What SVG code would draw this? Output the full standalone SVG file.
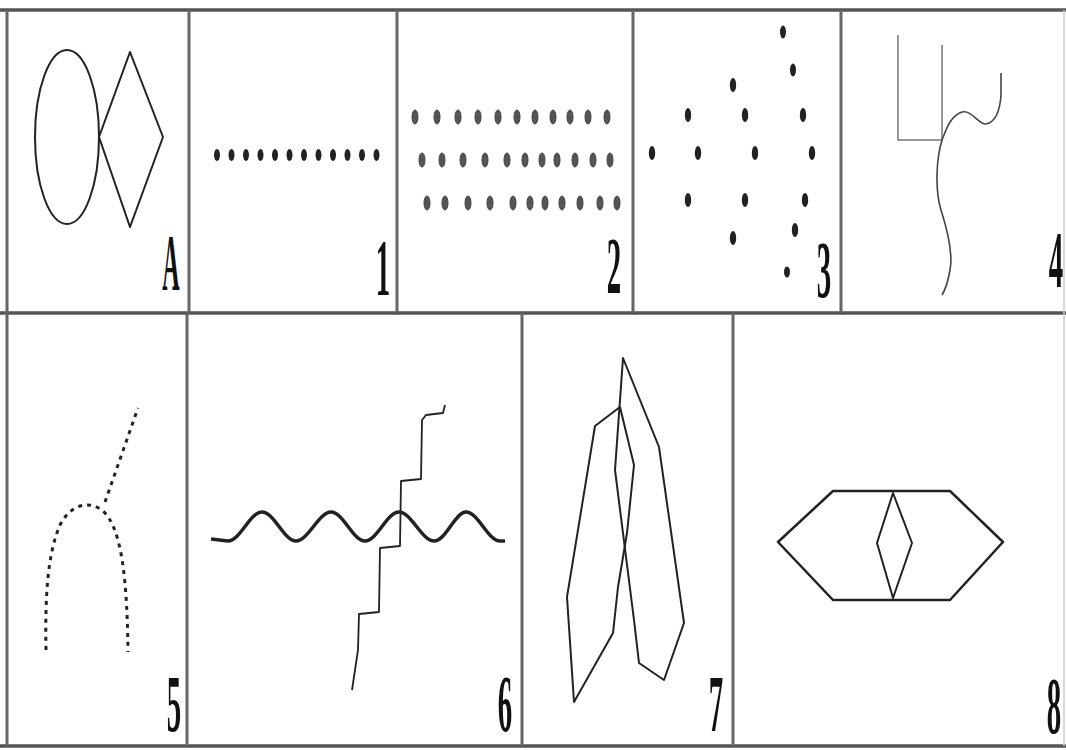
<svg xmlns="http://www.w3.org/2000/svg" width="1066" height="750" viewBox="0 0 1066 750">
<defs>
<style>
.frame{stroke:#555;stroke-width:3.5;fill:none}
.div{stroke:#666;stroke-width:3;fill:none}
.ln{stroke:#222;stroke-width:2;fill:none;stroke-linejoin:round}
.thin{stroke:#777;stroke-width:1.5;fill:none}
.dot{fill:#222}
.odot{fill:#555;stroke:#444;stroke-width:1}
.lbl{font-family:"Liberation Serif","Times New Roman",serif;font-size:80px;font-weight:bold;fill:#111;text-anchor:middle}
</style>
</defs>
<rect width="1066" height="750" fill="#fff"/>
<g id="frame">
<line class="frame" x1="0" y1="10" x2="1066" y2="10"/>
<line class="frame" x1="0" y1="313" x2="1066" y2="313"/>
<line class="frame" x1="0" y1="746" x2="1066" y2="746"/>
<line class="div" x1="7" y1="10" x2="7" y2="746"/>
<line x1="1064" y1="10" x2="1064" y2="746" stroke="#ccc" stroke-width="1.5"/>
<line class="div" x1="189" y1="10" x2="189" y2="313"/>
<line class="div" x1="397" y1="10" x2="397" y2="313"/>
<line class="div" x1="633" y1="10" x2="633" y2="313"/>
<line class="div" x1="841" y1="10" x2="841" y2="313"/>
<line class="div" x1="187" y1="313" x2="187" y2="746"/>
<line class="div" x1="522" y1="313" x2="522" y2="746"/>
<line class="div" x1="733" y1="313" x2="733" y2="746"/>
</g>
<g id="figA">
<ellipse class="ln" cx="67" cy="137" rx="32" ry="87"/>
<polygon class="ln" points="130,52 163,137 130,227 99,137"/>
<text class="lbl" transform="translate(171,290) scale(0.3,1)">A</text>
</g>
<g id="fig1">
<g class="dot">
<ellipse cx="217" cy="155" rx="3" ry="6"/><ellipse cx="231.5" cy="155" rx="3" ry="6"/><ellipse cx="246" cy="155" rx="3" ry="6"/><ellipse cx="260.5" cy="155" rx="3" ry="6"/><ellipse cx="275" cy="155" rx="3" ry="6"/><ellipse cx="289.5" cy="155" rx="3" ry="6"/><ellipse cx="304" cy="155" rx="3" ry="6"/><ellipse cx="318.5" cy="155" rx="3" ry="6"/><ellipse cx="333" cy="155" rx="3" ry="6"/><ellipse cx="347.5" cy="155" rx="3" ry="6"/><ellipse cx="362" cy="155" rx="3" ry="6"/><ellipse cx="376.5" cy="155" rx="3" ry="6"/>
</g>
<text class="lbl" transform="translate(383,295) scale(0.36,1)">1</text>
</g>
<g id="fig2">
<g class="odot">
<ellipse cx="415" cy="117" rx="3" ry="7"/><ellipse cx="437" cy="117" rx="3" ry="7"/><ellipse cx="458" cy="117" rx="3" ry="7"/><ellipse cx="478" cy="117" rx="3" ry="7"/><ellipse cx="498" cy="117" rx="3" ry="7"/><ellipse cx="517" cy="117" rx="3" ry="7"/><ellipse cx="535" cy="117" rx="3" ry="7"/><ellipse cx="553" cy="117" rx="3" ry="7"/><ellipse cx="570" cy="117" rx="3" ry="7"/><ellipse cx="588" cy="117" rx="3" ry="7"/><ellipse cx="607" cy="117" rx="3" ry="7"/>
<ellipse cx="422" cy="160" rx="3" ry="7"/><ellipse cx="442" cy="160" rx="3" ry="7"/><ellipse cx="463" cy="160" rx="3" ry="7"/><ellipse cx="485" cy="160" rx="3" ry="7"/><ellipse cx="507" cy="160" rx="3" ry="7"/><ellipse cx="525" cy="160" rx="3" ry="7"/><ellipse cx="542" cy="160" rx="3" ry="7"/><ellipse cx="557" cy="160" rx="3" ry="7"/><ellipse cx="575" cy="160" rx="3" ry="7"/><ellipse cx="593" cy="160" rx="3" ry="7"/><ellipse cx="610" cy="160" rx="3" ry="7"/>
<ellipse cx="427" cy="203" rx="3" ry="7"/><ellipse cx="445" cy="203" rx="3" ry="7"/><ellipse cx="468" cy="203" rx="3" ry="7"/><ellipse cx="490" cy="203" rx="3" ry="7"/><ellipse cx="513" cy="203" rx="3" ry="7"/><ellipse cx="530" cy="203" rx="3" ry="7"/><ellipse cx="545" cy="203" rx="3" ry="7"/><ellipse cx="562" cy="203" rx="3" ry="7"/><ellipse cx="580" cy="203" rx="3" ry="7"/><ellipse cx="600" cy="203" rx="3" ry="7"/><ellipse cx="617" cy="203" rx="3" ry="7"/>
</g>
<text class="lbl" transform="translate(614,293) scale(0.36,1)">2</text>
</g>
<g id="fig3">
<g class="dot">
<ellipse cx="783" cy="32" rx="3" ry="6.5"/><ellipse cx="793" cy="70" rx="3" ry="6.5"/><ellipse cx="733" cy="85" rx="3.2" ry="7"/>
<ellipse cx="688" cy="115" rx="3.2" ry="7"/><ellipse cx="745" cy="115" rx="3.2" ry="7"/><ellipse cx="803" cy="115" rx="3.2" ry="7"/>
<ellipse cx="652" cy="153" rx="3.2" ry="7"/><ellipse cx="698" cy="153" rx="3.2" ry="7"/><ellipse cx="755" cy="153" rx="3.2" ry="7"/><ellipse cx="812" cy="153" rx="3.2" ry="7"/>
<ellipse cx="688" cy="200" rx="3.2" ry="7"/><ellipse cx="745" cy="200" rx="3.2" ry="7"/><ellipse cx="805" cy="200" rx="3.2" ry="7"/>
<ellipse cx="733" cy="238" rx="3.2" ry="7"/><ellipse cx="795" cy="230" rx="3.2" ry="7"/><ellipse cx="787" cy="272" rx="3" ry="5.5"/>
</g>
<text class="lbl" transform="translate(824,297) scale(0.36,1)">3</text>
</g>
<g id="fig4">
<polyline class="thin" points="898,35 898,140 942,140 942,45"/>
<path class="ln" style="stroke:#444;stroke-width:1.6" d="M942,140 C946,130 950,116 962,112 C972,110 978,124 986,124 C996,122 1000,110 1001,95 L1001,73"/>
<path class="ln" style="stroke:#444;stroke-width:1.6" d="M942,140 C936,160 935,190 941,210 C948,232 953,255 950,270 C948,282 945,290 942,295"/>
<text class="lbl" transform="translate(1056,287) scale(0.36,1)">4</text>
</g>
<g id="fig5">
<path class="ln" style="stroke-width:3;stroke-dasharray:4 5" d="M46,650 C45,600 47,555 60,525 C70,505 90,498 105,513 C118,528 127,560 128,652"/>
<path class="ln" style="stroke-width:3;stroke-dasharray:4 5" d="M105,502 L138,408"/>
<text class="lbl" transform="translate(174,731) scale(0.36,1)">5</text>
</g>
<g id="fig6">
<path class="ln" style="stroke-width:3.5" d="M211,539 L228,541 C240,541 250,512 262,512 C274,512 284,541 296,541 C308,541 319,512 331,512 C343,512 353,541 365,541 C377,541 387,512 399,512 C411,512 422,541 434,541 C446,541 455,512 466,512 C478,512 488,541 500,541 L505,541"/>
<path class="ln" style="stroke-width:1.8" d="M445,405 L443,413 L426,415 L422,420 L421,479 L401,481 L400,546 L380,548 L379,612 L359,614 L358,650 L352,690"/>
<text class="lbl" transform="translate(505,731) scale(0.36,1)">6</text>
</g>
<g id="fig7">
<polygon class="ln" points="595,426 620,407 634,465 627,533 618,587 613,633 574,702 567,597"/>
<polygon class="ln" points="623,358 659,447 684,623 664,680 639,663 634,620 615,470 620,400"/>
<text class="lbl" transform="translate(716,731) scale(0.36,1)">7</text>
</g>
<g id="fig8">
<polygon class="ln" style="stroke-width:2.5" points="778,542 833,491 950,491 1003,542 950,600 833,600"/>
<polygon class="ln" points="893,493 912,543 893,598 877,543"/>
<text class="lbl" transform="translate(1054,733) scale(0.36,1)">8</text>
</g>
</svg>
